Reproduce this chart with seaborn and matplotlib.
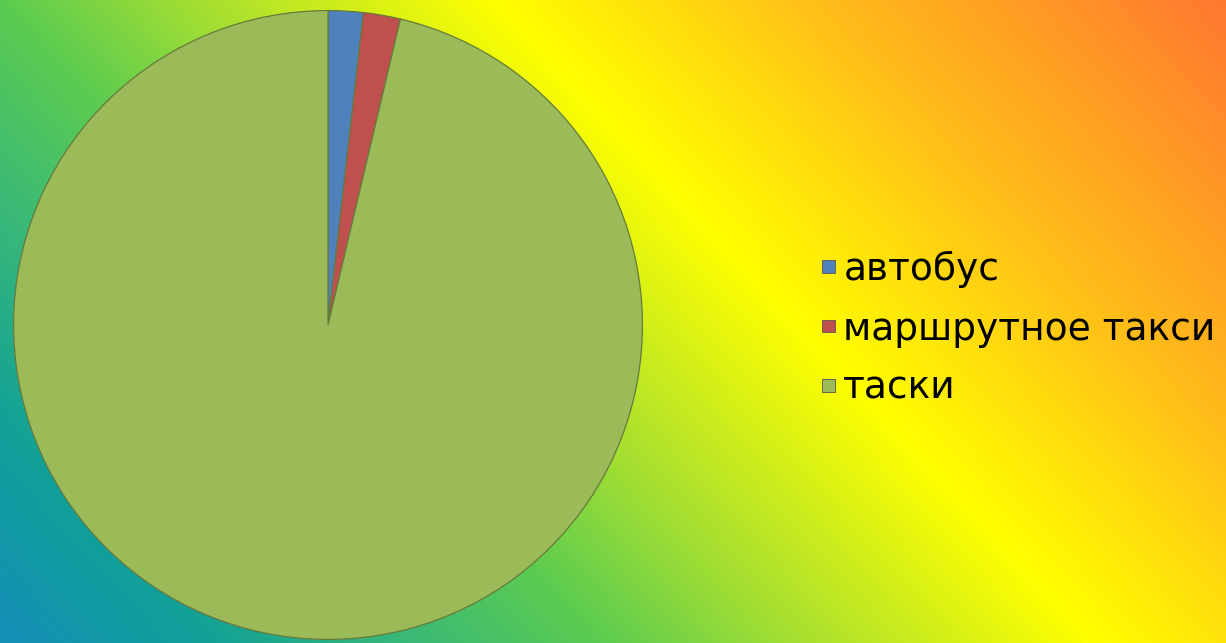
import numpy as np
import matplotlib
matplotlib.use("Agg")
from matplotlib import pyplot as plt
from matplotlib.colors import LinearSegmentedColormap
import seaborn as sns

sns.set_style("white")
plt.rcParams['font.family'] = ['DejaVu Sans']

# data
labels = ['автобус', 'маршрутное такси', 'таски']
shares = [1.8, 1.9, 96.3]
colours = ['#4f81bd', '#c0504d', '#9bbb59']

W, H = 1226, 643
fig = plt.figure(figsize=(W / 100, H / 100), dpi=100)

# diagonal background gradient
bg = fig.add_axes([0, 0, 1, 1])
xx, yy = np.meshgrid(np.arange(W), np.arange(H))
u = xx - yy * (600 / 643)
t = (u + 600) / 1826
grad = LinearSegmentedColormap.from_list("bg", [
    (0.00, '#1490b8'),
    (0.11, '#10a098'),
    (0.22, '#38b878'),
    (0.33, '#5ccc50'),
    (0.44, '#a8e030'),
    (0.60, '#ffff00'),
    (0.77, '#ffc018'),
    (1.00, '#ff7830'),
])
bg.imshow(t, cmap=grad, aspect='auto', extent=[0, 1, 0, 1], vmin=0, vmax=1)
bg.set_axis_off()

# pie
cx, cy, r = 328, 325, 316
ax = fig.add_axes([(cx - r) / W, (H - cy - r) / H, 2 * r / W, 2 * r / H])
wedges, _ = ax.pie(shares, colors=colours, startangle=90, counterclock=False,
                   radius=1, wedgeprops=dict(edgecolor='#667a3c', linewidth=0.9))
ax.set_xlim(-1.005, 1.005)
ax.set_ylim(-1.005, 1.005)
ax.set_axis_off()

leg = fig.legend(wedges, labels, loc='center left',
                 bbox_to_anchor=(807 / W, 1 - 329 / H),
                 frameon=False, fontsize=27, handlelength=0.35, handleheight=0.15,
                 handletextpad=0.22, labelspacing=0.62, borderaxespad=0,
                 labelcolor='black')
for h in leg.legend_handles:
    h.set_edgecolor('#555555')
    h.set_linewidth(0.6)

fig.savefig("out.png", dpi=100)
